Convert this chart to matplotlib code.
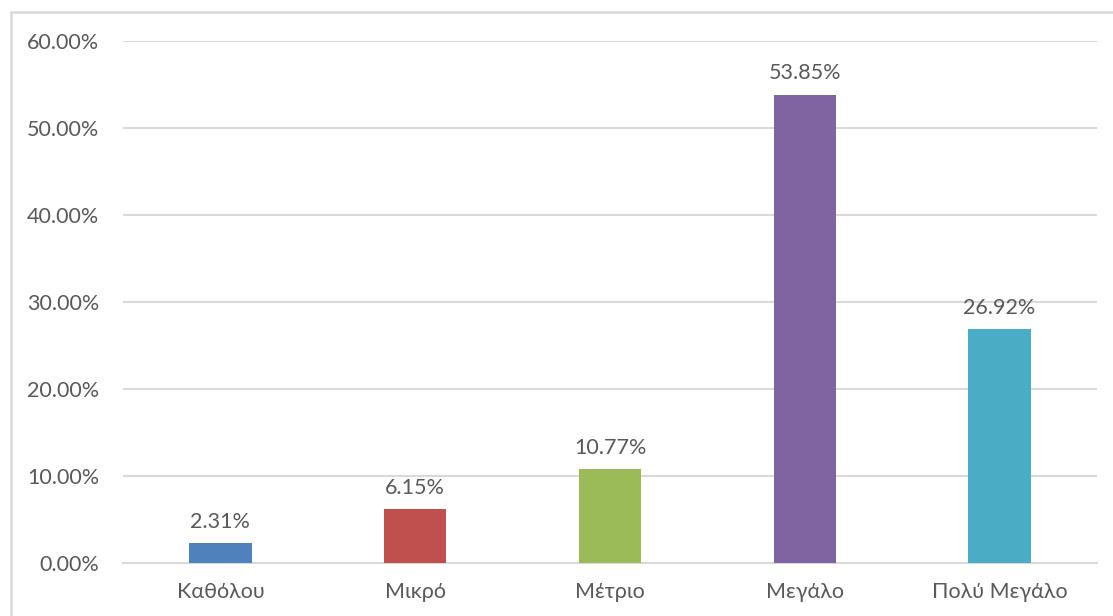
import matplotlib
matplotlib.use("Agg")
import matplotlib.pyplot as plt
from matplotlib.patches import Rectangle
from matplotlib.ticker import FuncFormatter, MultipleLocator

# data
categories = ["Καθόλου", "Μικρό", "Μέτριο", "Μεγάλο", "Πολύ Μεγάλο"]
percentages = [2.31, 6.15, 10.77, 53.85, 26.92]
bar_colors = ["#4F81BD", "#C0504D", "#9BBB59", "#8064A2", "#4BACC6"]

text_col = "#595959"
grid_col = "#D9D9D9"
fs = 15.5

plt.rcParams["font.family"] = ["Lato", "DejaVu Sans"]

fig = plt.figure(figsize=(11.13, 6.16), dpi=100)
ax = fig.add_axes([123 / 1113, 1 - 563 / 616, (1097 - 123) / 1113, (563 - 41) / 616])

x = range(len(categories))
bars = ax.bar(x, percentages, width=0.32, color=bar_colors, zorder=3)

for b, v in zip(bars, percentages):
    ax.annotate("{:.2f}%".format(v), (b.get_x() + b.get_width() / 2, v),
                xytext=(0, 8), textcoords="offset points",
                ha="center", va="bottom", fontsize=fs, color=text_col)

ax.set_xlim(-0.5, len(categories) - 0.5)
ax.set_ylim(0, 60)
ax.yaxis.set_major_locator(MultipleLocator(10))
ax.yaxis.set_major_formatter(FuncFormatter(lambda v, p: "{:.2f}%".format(v)))
ax.set_xticks(list(x))
ax.set_xticklabels(categories)

ax.grid(axis="y", color=grid_col, linewidth=1.5, zorder=0)
for s in ["top", "right", "left"]:
    ax.spines[s].set_visible(False)
ax.spines["bottom"].set_color(grid_col)
ax.spines["bottom"].set_linewidth(1.5)
ax.tick_params(axis="both", length=0, labelsize=fs, labelcolor=text_col)
ax.tick_params(axis="y", pad=17)
ax.tick_params(axis="x", pad=14)

# chart-area border (cropped on right and bottom in the original)
fig.patches.append(Rectangle((11 / 1113, -0.1), 1.2, 1 - 12 / 616 + 0.1,
                             transform=fig.transFigure, fill=False,
                             edgecolor=grid_col, linewidth=1.8))

fig.savefig("out.png", dpi=100)
